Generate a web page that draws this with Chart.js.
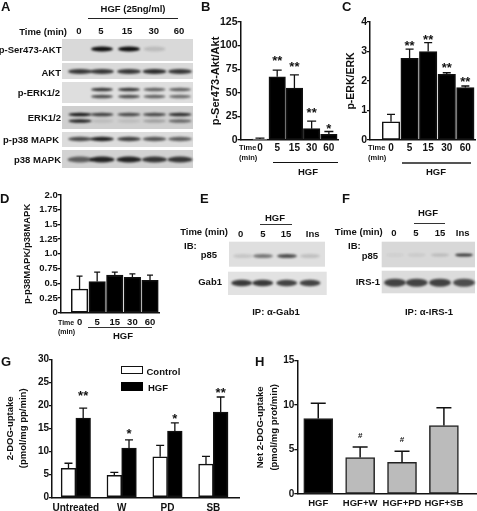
<!DOCTYPE html>
<html>
<head>
<meta charset="utf-8">
<style>
  html, body { margin: 0; padding: 0; background: #fff; }
  #page { position: relative; width: 477px; height: 511px; overflow: hidden; font-family: "Liberation Sans", Arial, sans-serif; font-weight: bold; color: #111; }
  #page canvas { position: absolute; }
  .txt { position: absolute; white-space: nowrap; line-height: 1; }
  .rule { position: absolute; }
</style>
<script src="https://cdn.jsdelivr.net/npm/chart.js@4"></script>
</head>
<body>
<div id="page"><canvas id="blots" width="477" height="511" style="left:0;top:0"></canvas></div>
<script>
// panel B
const bLabels = ["0", "5", "15", "30", "60"];
const bValues = [1, 67, 55, 12, 6];
const bErrTop = [2, 74, 69, 20, 9];
const bStars = ["", "**", "**", "**", "*"];
const bStarLevels = [0, 86, 80, 31, 14];
const bTicks = [0, 25, 50, 75, 100, 125];

// panel C
const cLabels = ["0", "5", "15", "30", "60"];
const cValues = [0.62, 2.77, 3.0, 2.23, 1.78];
const cErrTop = [0.87, 3.08, 3.3, 2.28, 1.83];
const cStars = ["", "**", "**", "**", "**"];
const cStarLevels = [0, 3.28, 3.48, 2.52, 2.05];
const cTicks = [0, 1, 2, 3, 4];

// panel D
const dLabels = ["0", "5", "15", "30", "60"];
const dValues = [0.4, 0.53, 0.64, 0.6, 0.55];
const dErrTop = [0.62, 0.69, 0.69, 0.66, 0.64];
const dTicks = [0, 0.25, 0.5, 0.75, 1, 1.25, 1.5, 1.75, 2];
const dTickLabels = ["0", "0.25", "0.5", "0.75", "1.0", "1.25", "1.5", "1.75", "2.0"];

// panel G
const gLabels = ["Untreated", "W", "PD", "SB"];
const gControl = [6.3, 4.8, 8.8, 7.2];
const gControlErr = [7.4, 5.4, 11.3, 8.9];
const gHgf = [17.2, 10.7, 14.4, 18.5];
const gHgfErr = [19.4, 12.5, 16.2, 21.8];
const gStars = ["**", "*", "*", "**"];
const gStarLevels = [22.5, 14.3, 17.6, 23.2];
const gTicks = [0, 5, 10, 15, 20, 25, 30];

// panel H
const hLabels = ["HGF", "HGF+W", "HGF+PD", "HGF+SB"];
const hValues = [8.5, 4.1, 3.55, 7.7];
const hErrTop = [10.2, 5.3, 4.8, 9.7];
const hStars = ["", "#", "#", ""];
const hStarLevels = [0, 6.6, 6.1, 0];
const hTicks = [0, 5, 10, 15];

// blot band strengths, one value per lane
const pAkt = [0, 1, 1, 0.14, 0];
const akt = [0.8, 0.8, 0.8, 0.85, 0.8];
const pErkUpper = [0, 0.8, 0.8, 0.6, 0.6];
const pErkLower = [0, 0.7, 0.7, 0.6, 0.55];
const erkUpper = [0.95, 0.75, 0.7, 0.7, 0.85];
const erkLower = [0.9, 0.1, 0.1, 0.25, 0.55];
const pP38 = [0.7, 0.9, 0.75, 0.65, 0.6];
const p38 = [0.6, 0.9, 0.9, 0.8, 0.8];
const eP85 = [0.12, 0.5, 0.7, 0.15];
const eGab1 = [0.8, 0.8, 0.75, 0.75];
const fP85 = [0.05, 0.08, 0.15, 0.8];
const fIrs1 = [0.75, 0.75, 0.75, 0.7];

const page = document.getElementById("page");
const FONT = "Liberation Sans";

function text(str, x, y, size, anchor) {
  const d = document.createElement("div");
  d.className = "txt";
  d.textContent = str;
  d.style.left = x + "px";
  d.style.top = y + "px";
  d.style.fontSize = size + "px";
  const tx = anchor === "r" ? "-100%" : anchor === "l" ? "0" : "-50%";
  d.style.transform = "translate(" + tx + ",-50%)";
  page.appendChild(d);
  return d;
}

function rule(x1, x2, y, h, color) {
  const d = document.createElement("div");
  d.className = "rule";
  d.style.cssText = "left:" + x1 + "px;top:" + (y - h / 2) + "px;width:" + (x2 - x1) + "px;height:" + h + "px;background:" + color;
  page.appendChild(d);
}

// error whiskers and significance marks, placed through the chart's scales
const markPlugin = {
  id: "marks",
  afterDatasetsDraw(chart, args, opts) {
    const ctx = chart.ctx;
    const y = chart.scales.y;
    ctx.save();
    ctx.strokeStyle = "#111";
    ctx.lineWidth = opts.errWidth;
    chart.data.datasets.forEach((ds, i) => {
      chart.getDatasetMeta(i).data.forEach((bar, j) => {
        const py = y.getPixelForValue(ds.errTop[j]);
        ctx.beginPath();
        ctx.moveTo(bar.x, y.getPixelForValue(ds.data[j].y));
        ctx.lineTo(bar.x, py);
        ctx.moveTo(bar.x - opts.cap / 2, py);
        ctx.lineTo(bar.x + opts.cap / 2, py);
        ctx.stroke();
      });
    });
    if (opts.stars) {
      const last = chart.getDatasetMeta(chart.data.datasets.length - 1).data;
      ctx.fillStyle = "#111";
      ctx.font = "bold " + opts.starSize + "px '" + FONT + "'";
      ctx.textAlign = "center";
      ctx.textBaseline = "middle";
      opts.stars.forEach((s, j) => {
        if (s) ctx.fillText(s, last[j].x, y.getPixelForValue(opts.starLevels[j]) + opts.starShift);
      });
    }
    ctx.restore();
  }
};

function drawChart(c) {
  const canvas = document.createElement("canvas");
  canvas.width = c.box[2];
  canvas.height = c.box[3];
  canvas.style.left = c.box[0] + "px";
  canvas.style.top = c.box[1] + "px";
  page.appendChild(canvas);
  const tickFont = { family: FONT, weight: "bold", size: c.tickSize };
  new Chart(canvas, {
    type: "bar",
    data: {
      datasets: c.series.map(s => ({
        data: s.values.map((v, i) => ({ x: i, y: v })),
        errTop: s.errTop,
        barThickness: c.barWidth,
        backgroundColor: s.fills || s.values.map(() => s.fill),
        borderColor: s.line || "#111",
        borderWidth: s.lineWidth === undefined ? 1.5 : s.lineWidth,
        borderSkipped: false
      }))
    },
    options: {
      responsive: false,
      animation: false,
      layout: { padding: { top: c.top - c.box[1], right: c.box[0] + c.box[2] - c.right, left: 0, bottom: 0 } },
      plugins: {
        legend: { display: false },
        tooltip: { enabled: false },
        marks: { errWidth: c.errWidth || 1.3, cap: c.cap, stars: c.stars, starLevels: c.starLevels, starSize: c.starSize || 13, starShift: c.starShift === undefined ? 3 : c.starShift }
      },
      scales: {
        x: {
          type: "linear",
          offset: false,
          min: c.xMin,
          max: c.xMax,
          afterBuildTicks(s) { s.ticks = c.labels.map((_, i) => ({ value: i })); },
          afterFit(s) { s.height = c.box[1] + c.box[3] - c.zero; },
          grid: { display: false, drawTicks: false, offset: false },
          border: { display: true, color: "#111", width: 1.5 },
          ticks: {
            autoSkip: false, maxRotation: 0, padding: c.xPad, color: "#111",
            font: { family: FONT, weight: "bold", size: c.xSize || c.tickSize },
            callback: v => c.labels[v]
          }
        },
        y: {
          min: c.yTicks[0],
          max: c.yTicks[c.yTicks.length - 1],
          afterBuildTicks(s) { s.ticks = c.yTicks.map(v => ({ value: v })); },
          afterFit(s) { s.width = c.axisX - c.box[0]; },
          grid: { display: true, drawOnChartArea: false, drawTicks: true, tickLength: 3, color: "#111", lineWidth: 1.3 },
          border: { display: true, color: "#111", width: 1.5 },
          title: {
            display: true, text: c.title, color: "#111", padding: 0,
            font: { family: FONT, weight: "bold", size: c.titleSize, lineHeight: c.titleLine || 1.2 }
          },
          ticks: {
            autoSkip: false, padding: 0, color: "#111", font: tickFont,
            callback: (v, i) => (c.yTickLabels ? c.yTickLabels[i] : v)
          }
        }
      }
    },
    plugins: [markPlugin]
  });
}

const openFirst = v => v.map((_, i) => (i === 0 ? "#fff" : "#000"));

drawChart({
  box: [209, 10, 132, 146], top: 22, zero: 140, right: 338, axisX: 240.5,
  xMin: -1.13, xMax: 4.53, labels: bLabels, barWidth: 16.5, cap: 9,
  series: [{ values: bValues, errTop: bErrTop, fills: openFirst(bValues) }],
  stars: bStars, starLevels: bStarLevels, yTicks: bTicks,
  title: "p-Ser473-Akt/Akt", titleSize: 11, tickSize: 10.5, xSize: 10, xPad: 2
});
drawChart({
  box: [345, 10, 132, 146], top: 22, zero: 140, right: 475, axisX: 370,
  xMin: -1.13, xMax: 4.52, labels: cLabels, barWidth: 17.5, cap: 8,
  series: [{ values: cValues, errTop: cErrTop, fills: openFirst(cValues) }],
  stars: cStars, starLevels: cStarLevels, yTicks: cTicks,
  title: "p-ERK/ERK", titleSize: 10.5, tickSize: 10.5, xSize: 10, xPad: 2
});
drawChart({
  box: [22, 185, 141, 144], top: 195, zero: 312.7, right: 159, axisX: 60.7,
  xMin: -1.07, xMax: 4.51, labels: dLabels, barWidth: 16.5, cap: 6,
  series: [{ values: dValues, errTop: dErrTop, fills: openFirst(dValues) }],
  yTicks: dTicks, yTickLabels: dTickLabels,
  title: "p-p38MAPK/p38MAPK", titleSize: 9.5, tickSize: 9.5, xSize: 9.5, xPad: 4
});
drawChart({
  box: [4, 350, 238, 161], top: 359.3, zero: 497.3, right: 239, axisX: 52,
  xMin: -0.52, xMax: 3.56, labels: gLabels, barWidth: 14.7, cap: 8,
  series: [
    { values: gControl, errTop: gControlErr, fill: "#fff" },
    { values: gHgf, errTop: gHgfErr, fill: "#000" }
  ],
  stars: gStars, starLevels: gStarLevels, yTicks: gTicks,
  title: ["2-DOG-uptake", "(pmol/mg pp/min)"], titleSize: 9.5, titleLine: 1.33, tickSize: 10, xPad: 5
});
drawChart({
  box: [254, 350, 223, 161], top: 360.7, zero: 494, right: 477, axisX: 297.3,
  xMin: -0.5, xMax: 3.79, labels: hLabels, barWidth: 29, cap: 15, errWidth: 1.5,
  series: [{ values: hValues, errTop: hErrTop, fills: hValues.map((_, i) => (i === 0 ? "#000" : "#bbb")), line: "#222" }],
  stars: hStars, starLevels: hStarLevels, starSize: 8, starShift: 0, yTicks: hTicks,
  title: ["Net 2-DOG-uptake", "(pmol/mg prot/min)"], titleSize: 9.5, titleLine: 1.4, tickSize: 10, xSize: 9.5, xPad: 4
});

// western blots
const bctx = document.getElementById("blots").getContext("2d");
function blot(x1, x2, y1, y2, bg, rows, lanes, halfW, halfH) {
  bctx.filter = "none";
  bctx.fillStyle = bg;
  bctx.fillRect(x1, y1, x2 - x1, y2 - y1);
  bctx.filter = "blur(1.2px)";
  rows.forEach(r => {
    r.vals.forEach((v, i) => {
      if (!v) return;
      bctx.fillStyle = "rgba(15,15,15," + v + ")";
      bctx.beginPath();
      bctx.ellipse(lanes[i], r.y, halfW, r.h || halfH, 0, 0, Math.PI * 2);
      bctx.fill();
    });
  });
  bctx.filter = "none";
}
const aLanes = [80, 102, 129, 154.5, 180];
blot(62, 193, 39, 61, "#d9d9d9", [{ y: 49, vals: pAkt, h: 2.6 }], aLanes, 11, 2);
blot(62, 193, 63, 79, "#dadada", [{ y: 71.5, vals: akt, h: 2.6 }], aLanes, 12, 2);
blot(62, 193, 82, 103, "#dedede", [{ y: 89.5, vals: pErkUpper }, { y: 96.5, vals: pErkLower }], aLanes, 11, 1.8);
blot(62, 193, 106, 129, "#cfcfcf", [{ y: 114.5, vals: erkUpper }, { y: 121, vals: erkLower }], aLanes, 11.5, 1.7);
blot(62, 193, 132, 147, "#dcdcdc", [{ y: 139, vals: pP38 }], aLanes, 12, 2.2);
blot(62, 193, 150, 168, "#d2d2d2", [{ y: 159.5, vals: p38 }], aLanes, 12.5, 3);
const eLanes = [243, 263, 287, 310];
blot(229, 325, 241.7, 266.7, "#dfdfdf", [{ y: 256, vals: eP85 }], eLanes, 10, 2);
blot(228, 326.7, 271.7, 295, "#e2e2e2", [{ y: 283, vals: eGab1 }], [241.7, 262.7, 286.7, 310], 10.5, 3.2);
const fLanes = [395, 416.7, 440, 464];
blot(381.7, 475, 241.7, 267.3, "#d8d8d8", [{ y: 255, vals: fP85, h: 1.6 }], fLanes, 9, 1.6);
blot(381.7, 475, 270.7, 293.3, "#dcdcdc", [{ y: 282.7, vals: fIrs1 }], fLanes, 11, 4);

// panel letters
text("A", 1, 6, 13, "l");
text("B", 201, 6, 13, "l");
text("C", 342, 6, 13, "l");
text("D", 0, 198, 13, "l");
text("E", 200, 198, 13, "l");
text("F", 342, 198, 13, "l");
text("G", 1, 361, 13, "l");
text("H", 255, 361, 13, "l");

// panel A labels
text("HGF (25ng/ml)", 133, 9, 9.5);
rule(88, 178, 18.7, 1.5, "#222");
text("Time (min)", 67, 32, 9.5, "r");
["0", "5", "15", "30", "60"].forEach((t, i) => text(t, [79, 101, 127, 153.7, 179][i], 31, 9.5));
text("p-Ser473-AKT", 61.5, 50, 9.5, "r");
text("AKT", 61, 73, 9.5, "r");
text("p-ERK1/2", 60, 93, 9.5, "r");
text("ERK1/2", 61, 118, 9.5, "r");
text("p-p38 MAPK", 59, 140, 9.5, "r");
text("p38 MAPK", 61, 160, 9.5, "r");

// time captions and HGF rules under B, C, D
text("Time", 239, 148, 7.5, "l");
text("(min)", 239, 158, 7.5, "l");
rule(273, 338, 162.7, 1.3, "#111");
text("HGF", 308, 172, 9.5);
text("Time", 368, 148, 7.5, "l");
text("(min)", 368, 158, 7.5, "l");
rule(401.7, 471, 162.7, 2, "#555");
text("HGF", 436, 172, 9.5);
text("Time", 58, 322, 7, "l");
text("(min)", 58, 331, 7, "l");
rule(88, 151.7, 327.7, 1.3, "#333");
text("HGF", 123, 336, 9.5);

// panel E labels
text("HGF", 275, 218, 9.5);
rule(260, 291.7, 224.3, 1, "#333");
text("Time (min)", 228, 232, 9.5, "r");
["0", "5", "15", "Ins"].forEach((t, i) => text(t, [240.7, 263, 286, 312.7][i], 234, 9.5));
text("IB:", 184, 246, 9.5, "l");
text("p85", 217, 255, 9.5, "r");
text("Gab1", 222, 282, 9.5, "r");
text("IP: α-Gab1", 276, 312, 9.5);

// panel F labels
text("HGF", 428, 213, 9.5);
rule(414, 445, 223.3, 1, "#333");
text("Time (min)", 382.7, 232, 9.5, "r");
["0", "5", "15", "Ins"].forEach((t, i) => text(t, [394, 416, 440, 462.7][i], 233, 9.5));
text("IB:", 348, 246, 9.5, "l");
text("p85", 378, 256, 9.5, "r");
text("IRS-1", 380, 282, 9.5, "r");
text("IP: α-IRS-1", 429, 312, 9.5);

// panel G key
const key = document.createElement("div");
key.className = "rule";
key.style.cssText = "left:121px;top:366px;width:22px;height:8px;background:#fff;border:1.3px solid #111;box-sizing:border-box";
page.appendChild(key);
const key2 = document.createElement("div");
key2.className = "rule";
key2.style.cssText = "left:121px;top:382.3px;width:22px;height:8.4px;background:#000";
page.appendChild(key2);
text("Control", 146.5, 372, 9.5, "l");
text("HGF", 148, 388, 9.5, "l");
</script>
</body>
</html>
